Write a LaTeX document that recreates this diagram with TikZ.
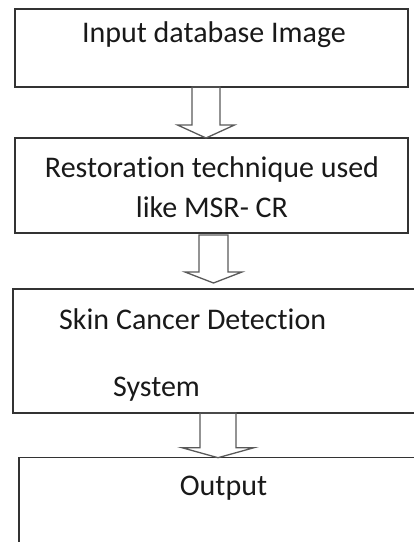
\documentclass[tikz,border=0pt]{standalone}
\usepackage{fontspec}
\setmainfont{Carlito}[Ligatures=NoCommon]
\usetikzlibrary{calc}

\begin{document}
\begin{tikzpicture}[
    x=1pt, y=-1pt,
    box/.style={draw=black!80, line width=1.3pt, inner sep=0pt, outer sep=0pt},
    lbl/.style={inner sep=0pt, text=black!90, font=\fontsize{30}{40}\selectfont},
    hollow/.style={draw=black!65, line width=1.3pt, line join=miter}
]

\def\boxw{393pt}

\clip (0,0) rectangle (414,542);

\node[box, minimum width=\boxw, minimum height=78pt] (in) at (211.5,48) {};
\node[box, minimum width=\boxw, minimum height=95pt] (rest) at (211.5,185.5) {};
\node[box, minimum width=440pt, minimum height=124pt] (detect) at (233,351) {};
\node[box, minimum width=450pt, minimum height=120pt] (out) at (244,517.7) {};

% base of a multi-line label is its last line
\node[lbl, anchor=base] (inlbl) at (214,42) {Input database Image};
\node[lbl, anchor=base, align=center] (restlbl) at (212,217) {Restoration technique used\\like MSR- CR};
\node[lbl, anchor=base west, align=left] (detectlbl) at (59,396) {Skin Cancer Detection\\[27pt]\hspace*{54pt}System};
\node[lbl, anchor=base] (outlbl) at (223.5,495) {Output};

% block arrows: from/to/shift/start/gap/shaft/head/head height
\foreach \a/\b/\dx/\off/\gap/\shaft/\head/\hgt in {in/rest/-5.5/0/0/14/28.5/13, rest/detect/2/2/6/14.5/28.5/11, detect/out/-15/0/0/18/36/10} {
  \coordinate (s) at ($(\a.south)+(\dx,\off)$);
  \coordinate (t) at ($(s |- \b.north)+(0,-\gap)$);
  \draw[hollow] ([xshift=-\shaft pt]s) -- ([shift={(-\shaft,-\hgt)}]t) -- ([shift={(-\head,-\hgt)}]t) -- (t)
    -- ([shift={(\head,-\hgt)}]t) -- ([shift={(\shaft,-\hgt)}]t) -- ([xshift=\shaft pt]s) -- cycle;
}
\end{tikzpicture}
\end{document}
